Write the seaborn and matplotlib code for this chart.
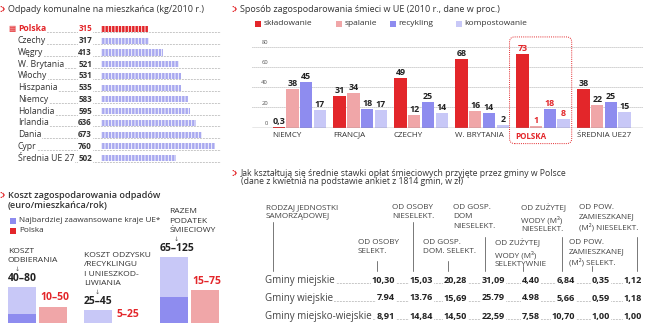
import numpy as np
import pandas as pd
import matplotlib
matplotlib.use('Agg')
import matplotlib.pyplot as plt
import matplotlib.transforms as mtransforms
from matplotlib.patches import Rectangle, FancyBboxPatch
from matplotlib.lines import Line2D
import seaborn as sns

# ---------------- data ----------------
waste_countries = ['Polska', 'Czechy', 'Węgry', 'W. Brytania', 'Włochy', 'Hiszpania',
                   'Niemcy', 'Holandia', 'Irlandia', 'Dania', 'Cypr', 'Średnia UE 27']
waste_kg = [315, 317, 413, 521, 531, 535, 583, 595, 636, 673, 760, 502]

eu_countries = ['NIEMCY', 'FRANCJA', 'CZECHY', 'W. BRYTANIA', 'POLSKA', 'ŚREDNIA UE27']
methods = ['składowanie', 'spalanie', 'recykling', 'kompostowanie']
skladowanie = [0.3, 31, 49, 68, 73, 38]
spalanie = [38, 34, 12, 16, 1, 22]
recykling = [45, 18, 25, 14, 18, 25]
kompostowanie = [17, 17, 14, 2, 8, 15]
pct_ticks = [0, 20, 40, 60, 80]

cost_categories = ['KOSZT\nODBIERANIA',
                   'KOSZT ODZYSKU\n/RECYKLINGU\nI UNIESZKOD-\nLIWIANIA',
                   'RAZEM\nPODATEK\nŚMIECIOWY']
cost_groups = ['Najbardziej zaawansowane kraje UE*', 'Polska']
eu_min = [40, 25, 65]
eu_max = [80, 45, 125]
pl_min = [10, 5, 15]
pl_max = [50, 25, 75]

fee_rows = ['Gminy miejskie', 'Gminy wiejskie', 'Gminy miejsko-wiejskie']
fee_upper_headers = ['RODZAJ JEDNOSTKI\nSAMORZĄDOWEJ', 'OD OSOBY\nNIESELEKT.',
                     'OD GOSP.\nDOM\nNIESELEKT.', 'OD ZUŻYTEJ\nWODY (M³)\nNIESELEKT.',
                     'OD POW.\nZAMIESZKANEJ\n(M²) NIESELEKT.']
fee_lower_headers = ['OD OSOBY\nSELEKT.', 'OD GOSP.\nDOM. SELEKT.',
                     'OD ZUŻYTEJ\nWODY (M³)\nSELEKTYWNIE', 'OD POW.\nZAMIESZKANEJ\n(M²) SELEKT.']
fee_miejskie = ['10,30', '15,03', '20,28', '31,09', '4,40', '6,84', '0,35', '1,12']
fee_wiejskie = ['7.94', '13.76', '15,69', '25.79', '4.98', '5,66', '0,59', '1,18']
fee_miejsko_wiejskie = ['8,91', '14,84', '14,50', '22,59', '7,58', '10,70', '1,00', '1,00']

# ---------------- style ----------------
RED = '#e3262a'
PINK = '#f0a6a8'
PURPLE = '#8e8cef'
LAV = '#c8c8f7'
PICTO = '#a9a9f0'
DARK = '#333333'

sns.set_theme(style='white')
plt.rcParams['font.family'] = ['Open Sans', 'DejaVu Sans']
plt.rcParams['hatch.linewidth'] = 0.6
plt.rcParams['hatch.color'] = 'white'

W, H = 657, 323
fig = plt.figure(figsize=(W / 100, H / 100), dpi=100)
fig.patch.set_facecolor('white')


def fx(p):
    return p / W


def fy(p):
    return 1 - p / H


def add_axes_px(x0, y0, x1, y1):
    return fig.add_axes([fx(x0), fy(y1), (x1 - x0) / W, (y1 - y0) / H])


def icon(x, y):
    fig.text(fx(x), fy(y), ':›', color=RED, fontsize=7, fontweight='bold',
             va='center', ha='left')


# ---------------- panel 1: waste per capita ----------------
icon(0, 9.5)
fig.text(fx(8), fy(9.5), 'Odpady komunalne na mieszkańca (kg/2010 r.)', fontsize=6.5,
         color=DARK, va='center', ha='left')

ax1 = add_axes_px(101, 23.1, 221, 164)
df1 = pd.DataFrame({'kraj': waste_countries, 'kg': waste_kg})
pal1 = {c: (RED if c == 'Polska' else PICTO) for c in waste_countries}
sns.barplot(data=df1, y='kraj', x='kg', hue='kraj', palette=pal1, order=waste_countries,
            orient='h', width=0.52, saturation=1, legend=False, ax=ax1,
            hatch='|||||', edgecolor='white', linewidth=0, zorder=3)
ax1.set_xlim(0, 800)
ax1.set_ylim(len(waste_countries) - 0.5, -0.5)
ax1.axis('off')
tr1 = mtransforms.blended_transform_factory(fig.transFigure, ax1.transData)
for i, (c, v) in enumerate(zip(waste_countries, waste_kg)):
    pol = c == 'Polska'
    col = RED if pol else DARK
    ax1.plot([fx(18), fx(220)], [i + 0.3, i + 0.3], transform=tr1, color='#8f8f8f',
             lw=0.6, ls=(0, (0.7, 1.1)), zorder=1, clip_on=False)
    ax1.text(fx(18), i, c, transform=tr1, fontsize=6.2, color=col, va='center', ha='left',
             fontweight='bold' if pol else 'normal',
             bbox=dict(fc='white', ec='none', pad=0.5), zorder=2, clip_on=False)
    ax1.text(fx(92), i, str(v), transform=tr1, fontsize=5.8, color=col, va='center',
             ha='right', fontweight='bold',
             bbox=dict(fc='white', ec='none', pad=0.5), zorder=2, clip_on=False)
ax1.text(fx(8), 0, '▦', transform=tr1, fontsize=5.5, color=RED, va='center', ha='left',
         family=['DejaVu Sans'])

# ---------------- panel 2: methods of waste management ----------------
icon(231, 9)
fig.text(fx(240), fy(9), 'Sposób zagospodarowania śmieci w UE (2010 r., dane w proc.)',
         fontsize=6.5, color=DARK, va='center', ha='left')
for m, c, x in zip(methods, [RED, PINK, PURPLE, LAV], [255, 336, 390, 456]):
    fig.add_artist(Rectangle((fx(x), fy(26.5)), 6 / W, 6 / H, transform=fig.transFigure,
                             color=c, lw=0))
    fig.text(fx(x + 8.5), fy(23.5), m, fontsize=6, color=DARK, va='center', ha='left')

ax2 = add_axes_px(252, 47, 643, 127.5)
series = [skladowanie, spalanie, recykling, kompostowanie]
rows = []
for m, vals in zip(methods, series):
    for c, v in zip(eu_countries, vals):
        rows.append({'kraj': c, 'metoda': m, 'proc': v})
df2 = pd.DataFrame(rows)
sns.barplot(data=df2, x='kraj', y='proc', hue='metoda', order=eu_countries,
            hue_order=methods, palette=[RED, PINK, PURPLE, LAV], width=0.9, gap=0.1,
            saturation=1, legend=False, ax=ax2, edgecolor='none', zorder=3)
ax2.set_ylim(0, 80)
ax2.set_xlim(-0.776, 5.64)
for s in ax2.spines.values():
    s.set_visible(False)
ax2.set_yticks([])
ax2.set_xlabel('')
ax2.set_ylabel('')
for v in pct_ticks[1:]:
    ax2.axhline(v, color='#9a9a9a', lw=0.6, ls=(0, (1, 1.4)), zorder=1)
ax2.axhline(0, color='#8a8a8a', lw=1.0, zorder=4)
tr2 = mtransforms.blended_transform_factory(fig.transFigure, ax2.transData)
for v in pct_ticks:
    ax2.text(fx(268), v + 1.8, str(v), transform=tr2, ha='right', va='bottom',
             fontsize=4.2, color='#555555')
ax2.set_xticks(np.arange(len(eu_countries)) - 0.45)
ax2.set_xticklabels(eu_countries, ha='left', fontsize=5.8, color=DARK)
ax2.tick_params(axis='x', length=0, pad=3)
for lab in ax2.get_xticklabels():
    if lab.get_text() == 'POLSKA':
        lab.set_color(RED)
        lab.set_fontweight('bold')
for cont, vals in zip(ax2.containers, series):
    for j, (bar, v) in enumerate(zip(cont, vals)):
        txt = f'{v:g}'.replace('.', ',')
        ax2.text(bar.get_x() + bar.get_width() / 2, v + 1.2, txt, ha='center', va='bottom',
                 fontsize=6.4, fontweight='bold',
                 color=RED if eu_countries[j] == 'POLSKA' else '#222222', zorder=5)
jp = eu_countries.index('POLSKA')
x0, y0 = ax2.transData.transform((jp - 0.55, -16))
x1, y1 = ax2.transData.transform((jp + 0.47, 90))
box = FancyBboxPatch((x0 / fig.dpi, y0 / fig.dpi), (x1 - x0) / fig.dpi, (y1 - y0) / fig.dpi,
                     boxstyle='round,pad=0,rounding_size=0.05', transform=fig.dpi_scale_trans,
                     fill=False, ec=RED, lw=0.7, ls=(0, (1, 1.2)), zorder=6)
fig.add_artist(box)

# ---------------- panel 3: costs ----------------
icon(0, 196)
fig.text(fx(8), fy(196), 'Koszt zagospodarowania odpadów', fontsize=6.6, color=DARK,
         va='center', ha='left', fontweight='semibold')
fig.text(fx(8), fy(206), '(euro/mieszkańca/rok)', fontsize=6.6, color=DARK,
         va='center', ha='left', fontweight='semibold')
for g, c, y in zip(cost_groups, [PURPLE, RED], [221, 231]):
    fig.add_artist(Rectangle((fx(10), fy(y + 3)), 6 / W, 6 / H, transform=fig.transFigure,
                             color=c, lw=0))
    fig.text(fx(19), fy(y), g, fontsize=5.9, color=DARK, va='center', ha='left')

ax3 = add_axes_px(0, 250, 225, 340)
df3 = pd.DataFrame({'kat': cost_categories * 2,
                    'grupa': [cost_groups[0]] * 3 + [cost_groups[1]] * 3,
                    'max': eu_max + pl_max, 'min': eu_min + pl_min})
sns.barplot(data=df3, x='kat', y='max', hue='grupa', hue_order=cost_groups,
            palette=[LAV, PINK], width=0.82, gap=0.1, saturation=1, legend=False,
            ax=ax3, edgecolor='none')
sns.barplot(data=df3, x='kat', y='min', hue='grupa', hue_order=cost_groups,
            palette=[PURPLE, RED], width=0.82, gap=0.1, saturation=1, legend=False,
            ax=ax3, edgecolor='none')
ax3.set_xlim(-0.49, 2.47)
ax3.set_ylim(0, 136)
ax3.axis('off')
head_dx = [0, 0, 7]
arrow_dx = [5, 8, 10]
for i, cat in enumerate(cost_categories):
    eb = ax3.containers[0][i]
    pb = ax3.containers[1][i]
    left = eb.get_x()
    ax3.annotate(f'{eu_min[i]}–{eu_max[i]}', xy=(left, eu_max[i]), xytext=(0, 2.5),
                 textcoords='offset points', ha='left', va='bottom', fontsize=7.5,
                 fontweight='bold', color='#222222', annotation_clip=False)
    ax3.annotate('↓', xy=(left, eu_max[i]), xytext=(arrow_dx[i], 13),
                 textcoords='offset points', ha='left', va='center', fontsize=4.5,
                 color='#555555', family=['DejaVu Sans'], annotation_clip=False)
    ax3.annotate(cat, xy=(left, eu_max[i]), xytext=(head_dx[i], 16.5),
                 textcoords='offset points', ha='left', va='bottom', fontsize=6.1,
                 color=DARK, linespacing=1.5, annotation_clip=False)
    ax3.annotate(f'{pl_min[i]}–{pl_max[i]}', xy=(pb.get_x(), pl_max[i]), xytext=(1, 2.5),
                 textcoords='offset points', ha='left', va='bottom', fontsize=7.5,
                 fontweight='bold', color=RED, annotation_clip=False)

# ---------------- panel 4: fee table ----------------
icon(232, 173)
fig.text(fx(241), fy(173),
         'Jak kształtują się średnie stawki opłat śmieciowych przyjęte przez gminy w Polsce',
         fontsize=6.2, color=DARK, va='center', ha='left')
fig.text(fx(241), fy(182), '(dane z kwietnia na podstawie ankiet z 1814 gmin, w zł)',
         fontsize=6.2, color=DARK, va='center', ha='left')

up_x = [266, 392, 453, 521, 579]
up_line_x = [273, 413, 485, 562, 637]
up_line_top = [222, 222, 237, 237, 237]
for t, x in zip(fee_upper_headers, up_x):
    fig.text(fx(x), fy(204), t, fontsize=5.9, color='#444444', va='top', ha='left',
             linespacing=1.45)
for x, yt in zip(up_line_x, up_line_top):
    fig.add_artist(Line2D([fx(x), fx(x)], [fy(yt), fy(271)], transform=fig.transFigure,
                          color='#777777', lw=0.7))
lo_x = [358, 423, 495, 569]
lo_line_x = [377, 448, 523, 592]
lo_line_top = [261, 261, 266, 266]
for t, x in zip(fee_lower_headers, lo_x):
    fig.text(fx(x), fy(239), t, fontsize=5.9, color='#444444', va='top', ha='left',
             linespacing=1.45)
for x, yt in zip(lo_line_x, lo_line_top):
    fig.add_artist(Line2D([fx(x), fx(x)], [fy(yt), fy(271)], transform=fig.transFigure,
                          color='#777777', lw=0.7))

val_right = [395, 433, 467, 505, 540, 575, 610, 642]
for r, (lab, vals) in enumerate(zip(fee_rows, [fee_miejskie, fee_wiejskie, fee_miejsko_wiejskie])):
    y = 280 + r * 18
    fig.add_artist(Line2D([fx(266), fx(641)], [fy(y + 3), fy(y + 3)], transform=fig.transFigure,
                          color='#8f8f8f', lw=0.6, ls=(0, (0.7, 1.1)), zorder=1))
    fig.text(fx(265), fy(y), lab, fontsize=7, color='#444444', va='center', ha='left',
             bbox=dict(fc='white', ec='none', pad=0.6), zorder=2)
    for v, xr in zip(vals, val_right):
        fig.text(fx(xr), fy(y), v, fontsize=6.6, color='#222222', fontweight='bold',
                 va='center', ha='right', bbox=dict(fc='white', ec='none', pad=0.6), zorder=2)

fig.savefig('out.png', dpi=100, facecolor='white')
